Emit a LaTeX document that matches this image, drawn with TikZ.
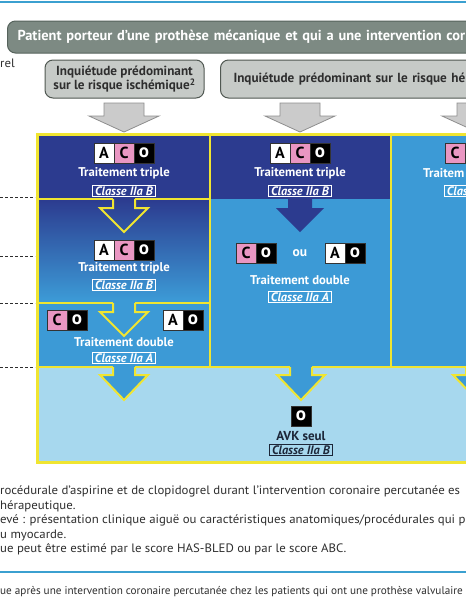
\documentclass[tikz,border=0pt]{standalone}
\usepackage{fontspec}
\setmainfont{PT Sans}
\newfontfamily\notefont[FakeStretch=1.05]{PT Sans}
\newcommand\pxsize[1]{\fontsize{#1}{#1}\selectfont}

\definecolor{darkblue}{HTML}{2C3B8F}
\definecolor{midblue}{HTML}{3C9AD6}
\definecolor{lightblue}{HTML}{A7D8EE}
\definecolor{frameyellow}{HTML}{F0E531}
\definecolor{cpink}{HTML}{E996C2}
\definecolor{headfill}{HTML}{7D8A83}
\definecolor{headline}{HTML}{56635C}
\definecolor{subfill}{HTML}{C6CAC7}
\definecolor{subline}{HTML}{505852}
\definecolor{arrowfill}{HTML}{CBCBCB}
\definecolor{arrowline}{HTML}{8E8E8E}
\definecolor{textgrey}{HTML}{2E2E2E}
\definecolor{navy}{HTML}{1C2638}
\definecolor{ruleblue}{HTML}{3BA0D0}

\tikzset{
  badge/.style={draw=black!80, line width=0.5pt, minimum size=20pt, inner sep=0pt, font=\bfseries\pxsize{16}},
  badgeA/.style={badge, fill=white, text=black},
  badgeC/.style={badge, fill=cpink, text=black},
  badgeO/.style={badge, fill=black, text=white, font=\bfseries\pxsize{19}},
  treat/.style={text=white, inner sep=0pt, font=\bfseries\pxsize{12.7}},
  classbox/.style={draw=white, line width=0.6pt, text=white, inner xsep=2.5pt, inner ysep=1.2pt, font=\bfseries\itshape\pxsize{12.3}},
  headbox/.style={draw=headline, line width=1pt, fill=headfill, rounded corners=8pt, text=white, font=\bfseries\pxsize{14.4}},
  subbox/.style={draw=subline, line width=1pt, fill=subfill, rounded corners=8pt, text=textgrey, font=\bfseries\pxsize{13.2}, align=center},
  greyarrow/.style={draw=arrowline, fill=arrowfill, line width=0.8pt, line join=miter},
  innerarrow/.style={draw=frameyellow, line width=2pt, line join=miter},
  yellowframe/.style={draw=frameyellow, line width=3pt},
  levelmark/.style={draw=textgrey, line width=0.9pt, dash pattern=on 3pt off 2pt},
  notetext/.style={anchor=west, inner sep=0pt, text=textgrey, font=\notefont\pxsize{12.2}},
}

\begin{document}
\begin{tikzpicture}[x=1pt,y=-1pt]
  \useasboundingbox (0,0) rectangle (466,600);
  \clip (0,0) rectangle (466,600);
  \fill[white] (0,0) rectangle (466,600);

  % header
  \draw[ruleblue, line width=1.3pt] (0,2) -- (466,2);
  \node[headbox, anchor=west, minimum height=32pt, minimum width=560pt, text width=540pt, inner xsep=9pt, align=left] (patient) at (7,37) {Patient porteur d’une prothèse mécanique et qui a une intervention cor};
  \node[notetext] (rel) at (0,63) {rel};
  \node[subbox, minimum width=159pt, minimum height=38pt] (ischem) at (124.5,79) {Inquiétude prédominant\\[0pt]sur le risque ischémique\textsuperscript{2}};
  \node[subbox, anchor=west, minimum height=38pt, minimum width=400pt, text width=374pt, inner xsep=13pt, align=left] (hemor) at (220,79) {Inquiétude prédominant sur le risque hé};

  \foreach \cx in {124,300,477}
    \draw[greyarrow] (\cx-20,103) -- (\cx-20,116) -- (\cx-35,116) -- (\cx,132) -- (\cx+35,116) -- (\cx+20,116) -- (\cx+20,103) -- cycle;

  % backgrounds
  \fill[darkblue] (37,134) rectangle (210,199);
  \shade[top color=darkblue, bottom color=midblue] (37,199) rectangle (210,300);
  \fill[midblue] (37,300) rectangle (210,367);
  \fill[darkblue] (210,134) rectangle (392,199);
  \fill[midblue] (210,199) rectangle (392,367);
  \fill[midblue] (392,134) rectangle (560,367);
  \fill[lightblue] (37,367) rectangle (560,463);

  % arrows
  \fill[darkblue] (288,198) -- (288,208) -- (276,208) -- (300,232) -- (324,208) -- (312,208) -- (312,198) -- cycle;
  \foreach \ty in {199,303}
    \draw[innerarrow] (113,\ty) -- (113,\ty+9) -- (100,\ty+9) -- (124,\ty+33) -- (148,\ty+9) -- (135,\ty+9) -- (135,\ty);
  \foreach \cx in {124,301,477}{
    \fill[midblue] (\cx-11,366) -- (\cx-11,375) -- (\cx-24,375) -- (\cx,400) -- (\cx+24,375) -- (\cx+11,375) -- (\cx+11,366) -- cycle;
    \draw[innerarrow] (\cx-11,367) -- (\cx-11,375) -- (\cx-24,375) -- (\cx,400) -- (\cx+24,375) -- (\cx+11,375) -- (\cx+11,367);
  }

  % yellow lines
  \draw[yellowframe] (37,134) rectangle (560,462);
  \draw[innerarrow] (210,134) -- (210,367);
  \draw[innerarrow] (391,134) -- (391,367);
  \foreach \ty in {199,303}{
    \draw[innerarrow] (37,\ty) -- (113,\ty);
    \draw[innerarrow] (135,\ty) -- (210,\ty);
  }
  \draw[innerarrow] (37,367) -- (113,367);
  \draw[innerarrow] (135,367) -- (290,367);
  \draw[innerarrow] (312,367) -- (466,367);

  \foreach \dy in {197,256,303,367}
    \draw[levelmark] (0,\dy) -- (35,\dy);

  % column 1
  \node[badgeA] (a1) at (104,153) {A};
  \node[badgeC] (c1) at (124,153) {C};
  \node[badgeO] (o1) at (144,153) {o};
  \node[treat] (trip1) at (124,173) {Traitement triple};
  \node[classbox] (cls1) at (124,191) {Classe IIa B};
  \node[badgeA] (a2) at (104,250) {A};
  \node[badgeC] (c2) at (124,250) {C};
  \node[badgeO] (o2) at (144,250) {o};
  \node[treat] (trip2) at (124,268) {Traitement triple};
  \node[classbox] (cls2) at (124,285) {Classe IIa B};
  \node[badgeC] (c3) at (57,320) {C};
  \node[badgeO] (o3) at (77,320) {o};
  \node[badgeA] (a3) at (173,320) {A};
  \node[badgeO] (o4) at (193,320) {o};
  \node[treat] (doub1) at (124,342) {Traitement double};
  \node[classbox] (cls3) at (124,358) {Classe IIa A};

  % column 2
  \node[badgeA] (a5) at (280,153) {A};
  \node[badgeC] (c5) at (300,153) {C};
  \node[badgeO] (o5) at (320,153) {o};
  \node[treat] (trip3) at (300,173) {Traitement triple};
  \node[classbox] (cls4) at (300,191) {Classe IIa B};
  \node[badgeC] (c6) at (246,253) {C};
  \node[badgeO] (o6) at (266,253) {o};
  \node[treat, font=\bfseries\pxsize{13.5}] (ou) at (300,253) {ou};
  \node[badgeA] (a7) at (335,253) {A};
  \node[badgeO] (o7) at (355,253) {o};
  \node[treat] (doub2) at (300,280) {Traitement double};
  \node[classbox] (cls5) at (300,297) {Classe IIa A};

  % column 3
  \node[badgeC] (c8) at (455,153) {C};
  \node[treat, anchor=west] (doub3) at (423,173) {Traitem};
  \node[classbox, anchor=west, text width=60pt, align=left] (cls6) at (444,191) {Clas};

  % bottom
  \node[badgeO] (o9) at (301,416) {o};
  \node[treat, text=navy, font=\bfseries\pxsize{13}] (avk) at (301,436) {AVK seul};
  \node[classbox, draw=navy, text=navy] (cls7) at (301,450) {Classe IIa B};

  % notes
  \node[notetext] (n1) at (0,491) {rocédurale d’aspirine et de clopidogrel durant l’intervention coronaire percutanée es};
  \node[notetext] (n2) at (0,506) {hérapeutique.};
  \node[notetext] (n3) at (0,520) {evé : présentation clinique aiguë ou caractéristiques anatomiques/procédurales qui p};
  \node[notetext] (n4) at (0,535) {u myocarde.};
  \node[notetext] (n5) at (0,549) {ue peut être estimé par le score HAS-BLED ou par le score ABC.};
  \draw[ruleblue, line width=1.3pt] (0,572) -- (466,572);
  \node[notetext, font=\pxsize{11.2}] (n6) at (0,592) {ue après une intervention coronaire percutanée chez les patients qui ont une prothèse valvulaire};
\end{tikzpicture}
\end{document}
